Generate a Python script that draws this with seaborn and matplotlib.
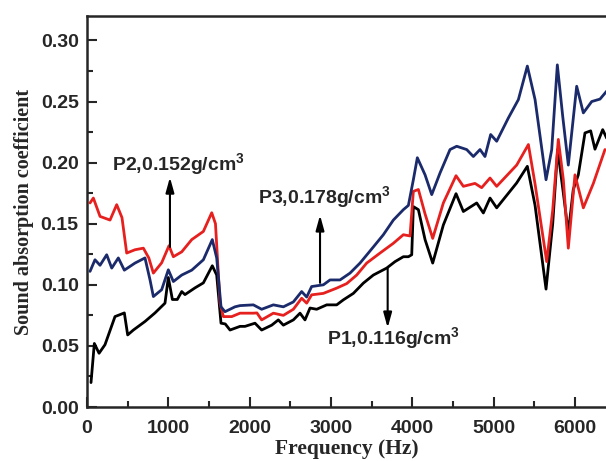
import pandas as pd
import seaborn as sns
import matplotlib.pyplot as plt

p1_freq = [49, 90, 148, 221, 344, 459, 500, 570, 713, 836, 959, 1000, 1050, 1110, 1165,
           1205, 1328, 1431, 1541, 1595, 1648, 1700, 1759, 1882, 1943, 2066, 2148, 2272,
           2353, 2415, 2538, 2620, 2681, 2743, 2825, 2948, 3071, 3153, 3276, 3399, 3522,
           3686, 3789, 3891, 3953, 3994, 4014, 4076, 4158, 4252, 4383, 4539, 4629, 4793,
           4875, 4957, 5039, 5285, 5416, 5511, 5646, 5728, 5789, 5859, 5920, 5981, 6043,
           6125, 6195, 6248, 6343, 6392]
p1_alpha = [0.020, 0.052, 0.044, 0.051, 0.074, 0.077, 0.059, 0.063, 0.070, 0.077, 0.085,
            0.106, 0.088, 0.088, 0.0945, 0.092, 0.0975, 0.1016, 0.1156, 0.108, 0.0686,
            0.068, 0.063, 0.066, 0.066, 0.0686, 0.063, 0.067, 0.0713, 0.067, 0.0713,
            0.0768, 0.0713, 0.081, 0.080, 0.0836, 0.0836, 0.0877, 0.093, 0.1014, 0.108,
            0.1137, 0.119, 0.123, 0.123, 0.1246, 0.164, 0.1615, 0.137, 0.1178, 0.149,
            0.1746, 0.160, 0.167, 0.1588, 0.171, 0.163, 0.1834, 0.197, 0.165, 0.0965,
            0.150, 0.2107, 0.175, 0.1424, 0.178, 0.190, 0.2243, 0.226, 0.211, 0.227, 0.220]

p2_freq = [37, 78, 160, 283, 365, 430, 488, 590, 693, 760, 816, 918, 1008, 1062, 1165,
           1288, 1431, 1534, 1580, 1636, 1677, 1780, 1882, 1943, 2046, 2090, 2148, 2292,
           2415, 2538, 2640, 2702, 2763, 2907, 3071, 3194, 3317, 3440, 3604, 3768, 3891,
           3973, 4014, 4076, 4158, 4252, 4383, 4539, 4629, 4772, 4854, 4957, 5039, 5285,
           5429, 5511, 5654, 5728, 5797, 5859, 5920, 6002, 6105, 6228, 6371]
p2_alpha = [0.167, 0.171, 0.156, 0.153, 0.1656, 0.155, 0.126, 0.1287, 0.130, 0.122,
            0.1096, 0.118, 0.132, 0.123, 0.127, 0.137, 0.1437, 0.159, 0.150, 0.085,
            0.074, 0.074, 0.0768, 0.0768, 0.0768, 0.077, 0.0713, 0.0768, 0.075, 0.080,
            0.089, 0.085, 0.0918, 0.093, 0.0973, 0.101, 0.108, 0.1178, 0.126, 0.134,
            0.141, 0.140, 0.1765, 0.178, 0.158, 0.138, 0.167, 0.1893, 0.1806, 0.183,
            0.1795, 0.1874, 0.1806, 0.198, 0.2148, 0.1825, 0.119, 0.161, 0.219, 0.186,
            0.130, 0.190, 0.163, 0.183, 0.2107]

p3_freq = [37, 98, 160, 242, 304, 385, 459, 590, 713, 775, 816, 918, 1000, 1062, 1165,
           1288, 1431, 1541, 1595, 1648, 1697, 1820, 1882, 2046, 2148, 2292, 2415, 2538,
           2640, 2702, 2763, 2907, 2989, 3112, 3235, 3358, 3522, 3645, 3768, 3891, 3953,
           4014, 4063, 4158, 4240, 4342, 4465, 4547, 4670, 4752, 4834, 4895, 4965, 5039,
           5183, 5306, 5416, 5511, 5646, 5716, 5785, 5851, 5920, 6023, 6105, 6208, 6310,
           6392]
p3_alpha = [0.111, 0.1205, 0.116, 0.1246, 0.1137, 0.122, 0.112, 0.1178, 0.122, 0.104,
            0.0904, 0.096, 0.1123, 0.1027, 0.108, 0.112, 0.1205, 0.137, 0.122, 0.082,
            0.078, 0.082, 0.083, 0.0836, 0.080, 0.0836, 0.082, 0.086, 0.0945, 0.090,
            0.0986, 0.100, 0.104, 0.104, 0.1096, 0.1178, 0.131, 0.141, 0.153, 0.1615,
            0.165, 0.186, 0.204, 0.190, 0.1738, 0.1915, 0.2107, 0.2134, 0.2107, 0.205,
            0.2107, 0.205, 0.223, 0.2175, 0.2366, 0.2516, 0.279, 0.2516, 0.186, 0.2107,
            0.280, 0.238, 0.198, 0.2625, 0.2407, 0.250, 0.252, 0.2585]

samples = ["P1", "P2", "P3"]
colors = {"P1": "#000000", "P2": "#e6201e", "P3": "#1b2a6b"}

df = pd.concat([
    pd.DataFrame({"freq": p1_freq, "alpha": p1_alpha, "sample": "P1"}),
    pd.DataFrame({"freq": p2_freq, "alpha": p2_alpha, "sample": "P2"}),
    pd.DataFrame({"freq": p3_freq, "alpha": p3_alpha, "sample": "P3"}),
])

sns.set_style("ticks")
tick_font = "Liberation Sans"
label_font = "Liberation Serif"
plt.rcParams["mathtext.fontset"] = "custom"
plt.rcParams["mathtext.rm"] = "Liberation Sans:bold"
plt.rcParams["mathtext.bf"] = "Liberation Sans:bold"

fig = plt.figure(figsize=(6.06, 4.61), dpi=100)
ax = fig.add_axes([0.1436, 0.1171, 0.8586, 0.8482])

sns.lineplot(data=df, x="freq", y="alpha", hue="sample", hue_order=samples,
             palette=colors, linewidth=2.0, legend=False, ax=ax, estimator=None, sort=False)

ax.set_xlim(0, 6400)
ax.set_ylim(0, 0.32)
ax.set_xticks([0, 1000, 2000, 3000, 4000, 5000, 6000])
ax.set_xticks(range(500, 6500, 1000), minor=True)
ax.set_yticks([0.00, 0.05, 0.10, 0.15, 0.20, 0.25, 0.30])
ax.set_yticks([0.025, 0.075, 0.125, 0.175, 0.225, 0.275], minor=True)
ax.set_yticklabels([f"{v:.2f}" for v in ax.get_yticks()])

ax.tick_params(axis="both", which="major", direction="in", length=7, width=1.5)
ax.tick_params(axis="both", which="minor", direction="in", length=4, width=1.5)
ax.tick_params(axis="x", pad=9)
ax.tick_params(axis="y", pad=6)
for lab in ax.get_xticklabels() + ax.get_yticklabels():
    lab.set_fontfamily(tick_font)
    lab.set_fontweight("bold")
    lab.set_fontsize(14)
for sp in ax.spines.values():
    sp.set_linewidth(1.8)

ax.set_xlabel("Frequency (Hz)", fontfamily=label_font, fontweight="bold", fontsize=15.5, labelpad=2)
ax.set_ylabel("Sound absorption coefficient", fontfamily=label_font, fontweight="bold",
              fontsize=14.5, labelpad=5)

arrow = dict(arrowstyle="-|>,head_length=0.9,head_width=0.25", color="black", lw=1.5,
             shrinkA=0, shrinkB=0)
txt = dict(fontfamily=tick_font, fontweight="bold", fontsize=14, va="center", ha="left")

ax.annotate("", xy=(1020, 0.188), xytext=(1020, 0.131), arrowprops=arrow)
ax.text(307, 0.1985, "P2,0.152g/cm$^{3}$", **txt)
ax.annotate("", xy=(2866, 0.157), xytext=(2866, 0.1016), arrowprops=arrow)
ax.text(2103, 0.171, "P3,0.178g/cm$^{3}$", **txt)
ax.annotate("", xy=(3698, 0.0648), xytext=(3698, 0.114), arrowprops=arrow)
ax.text(2952, 0.056, "P1,0.116g/cm$^{3}$", **txt)

plt.savefig("out.png", dpi=100)
